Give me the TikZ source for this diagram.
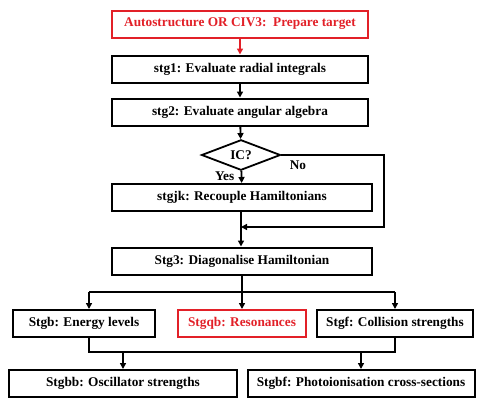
\documentclass[tikz,border=0pt]{standalone}
\usepackage{fontspec}
\setmainfont{Liberation Serif}
\usetikzlibrary{shapes.geometric, arrows.meta}

\definecolor{rmaxred}{RGB}{226,32,40}

\tikzset{
    stagebox/.style={draw, rectangle, line width=2pt, minimum height=27pt, inner sep=0pt,
        font=\fontsize{13.3}{15}\selectfont\bfseries},
    redbox/.style={stagebox, draw=rmaxred, text=rmaxred},
    flow/.style={-{Triangle[length=6pt,width=6pt]}, line width=1.8pt},
    plain/.style={line width=1.8pt}
}

\begin{document}
\begin{tikzpicture}[x=1pt, y=-1pt]
    \useasboundingbox (0,0) rectangle (480,405);

    % Target and first stages
    \node[redbox, minimum width=256pt] (prep) at (240,24) {Autostructure OR CIV3:\ \ Prepare target};
    \node[stagebox, minimum width=256pt] (stgone) at (240,69) {stg1: Evaluate radial integrals};
    \node[stagebox, minimum width=256pt] (stgtwo) at (240,112) {stg2: Evaluate angular algebra};
    \draw[flow, rmaxred] (prep) -- (stgone);
    \draw[flow] (stgone) -- (stgtwo);

    % Decision IC?
    \node[draw, diamond, line width=1.8pt, minimum width=79pt, minimum height=25pt, inner sep=0pt,
        font=\fontsize{13.3}{15}\selectfont\bfseries] (ic) at (241,155) {IC?};
    \draw[flow] (stgtwo) -- (ic);
    \node[stagebox, minimum width=260pt] (stgjk) at (242,197.5) {stgjk: Recouple Hamiltonians};
    \draw[flow] (ic) -- (stgjk) node[pos=0.45, left=3pt, font=\fontsize{13.3}{15}\selectfont\bfseries] (yes) {Yes};
    \node[font=\fontsize{13.3}{15}\selectfont\bfseries] (no) at (298,165) {No};

    % Diagonalise
    \node[stagebox, minimum width=260pt] (stgthree) at (242,261) {Stg3: Diagonalise Hamiltonian};
    \coordinate (merge) at (241,227);
    \coordinate (noturn) at (384,155);
    \draw[flow] (stgjk.south -| merge) -- (stgthree.north -| merge);
    \draw[flow] (ic.east) -- (noturn) |- (merge);

    % Outputs of Stg3
    \node[stagebox, minimum width=142pt] (stgb) at (84,323.5) {Stgb: Energy levels};
    \node[redbox, minimum width=128pt] (stgqb) at (242,323.5) {Stgqb: Resonances};
    \node[stagebox, minimum width=156pt] (stgf) at (395,323.5) {Stgf: Collision strengths};
    \coordinate (forkl) at (89,292);
    \coordinate (forkr) at (395,292);
    \draw[plain] (forkl) -- (forkr);
    \draw[flow] (stgthree.south -| stgqb) -- (stgqb);
    \draw[flow] (forkl) -- (forkl |- stgb.north);
    \draw[flow] (forkr) -- (stgf);

    % Final stages
    \node[stagebox, minimum width=228pt] (stgbb) at (123,383.5) {Stgbb: Oscillator strengths};
    \node[stagebox, minimum width=227pt] (stgbf) at (361,383.5) {Stgbf: Photoionisation cross-sections};
    \coordinate (joinl) at (89,352);
    \coordinate (joinr) at (395,352);
    \draw[plain] (joinl |- stgb.south) -- (joinl) -- (joinr) -- (stgf.south);
    \draw[flow] (stgbb.north |- joinl) -- (stgbb);
    \draw[flow] (stgbf.north |- joinl) -- (stgbf);

\end{tikzpicture}
\end{document}
